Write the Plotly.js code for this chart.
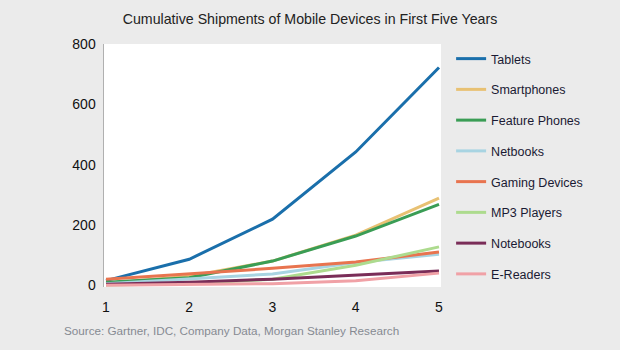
<!DOCTYPE html>
<html>
<head>
<meta charset="utf-8">
<script src="https://cdn.plot.ly/plotly-3.0.1.min.js"></script>
<style>html,body{margin:0;padding:0;background:#ebebeb;}#chart{width:620px;height:350px;}</style>
</head>
<body>
<div id="chart"></div>
<script>
const years = [1, 2, 3, 4, 5];
const seriesNames = ["Tablets", "Smartphones", "Feature Phones", "Netbooks", "Gaming Devices", "MP3 Players", "Notebooks", "E-Readers"];
const tablets = [15, 86, 219, 442, 722];
const smartphones = [6, 30, 80, 166, 289];
const featurePhones = [10, 25, 80, 163, 268];
const netbooks = [5, 20, 37, 75, 103];
const gamingDevices = [20, 37, 56, 77, 110];
const mp3Players = [1, 5, 20, 66, 127];
const notebooks = [3, 10, 20, 33, 47];
const eReaders = [0, 2, 5, 15, 40];
const seriesValues = [tablets, smartphones, featurePhones, netbooks, gamingDevices, mp3Players, notebooks, eReaders];
const colors = ["#1a6fab", "#e8c173", "#3a9d55", "#a8d4e2", "#e8744f", "#addb8e", "#7a2d58", "#f0a1a6"];
const yTicks = [0, 200, 400, 600, 800];

const traces = seriesNames.map((name, i) => ({
  type: "scatter",
  mode: "lines",
  name: name,
  x: years,
  y: seriesValues[i],
  legendgroup: "g" + i,
  line: {color: colors[i], width: 3}
}));

const layout = {
  width: 620, height: 350,
  paper_bgcolor: "#ebebeb",
  plot_bgcolor: "#ffffff",
  margin: {l: 104, r: 179, t: 44, b: 63},
  font: {family: "Liberation Sans, Arial, sans-serif", color: "#111111"},
  title: {
    text: "Cumulative Shipments of Mobile Devices in First Five Years",
    font: {size: 14.2, color: "#222222"},
    x: 0.5, xref: "container", xanchor: "center",
    y: 0.946, yref: "container", yanchor: "middle"
  },
  xaxis: {
    range: [0.976, 5.024],
    tickvals: years,
    ticktext: years.map(String),
    showgrid: false, zeroline: false, showline: false,
    ticks: "outside", ticklen: 7, tickcolor: "rgba(0,0,0,0)",
    tickfont: {size: 14, color: "#111111"}
  },
  yaxis: {
    range: [-6, 800],
    tickvals: yTicks,
    showgrid: false, zeroline: false,
    showline: true, linecolor: "#b0b0b0", linewidth: 1.5,
    ticks: "outside", ticklen: 4, tickcolor: "rgba(0,0,0,0)",
    tickfont: {size: 14, color: "#111111"}
  },
  legend: {
    x: 1.03, y: 1.0, xanchor: "left", yanchor: "top",
    bgcolor: "rgba(0,0,0,0)",
    font: {size: 12.5, color: "#1a1a33"},
    tracegroupgap: 11.5,
    itemwidth: 30
  },
  showlegend: true,
  annotations: [{
    text: "Source: Gartner, IDC, Company Data, Morgan Stanley Research",
    xref: "paper", yref: "paper",
    x: -0.1246, y: -0.18, xanchor: "left", yanchor: "middle",
    showarrow: false,
    font: {size: 11.7, color: "#868a92"}
  }]
};

Plotly.newPlot("chart", traces, layout, {displayModeBar: false, staticPlot: true});
</script>
</body>
</html>
